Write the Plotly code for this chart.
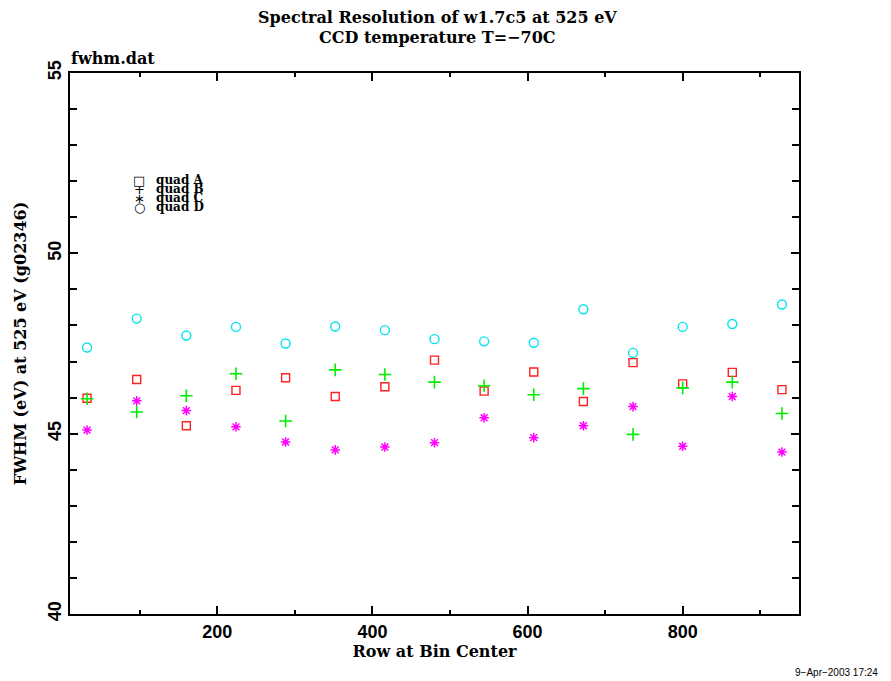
import plotly.graph_objects as go

# ---- data ----
row_centers = [32, 96, 160, 224, 288, 352, 416, 480, 544, 608, 672, 736, 800, 864, 928]
quad_a = [45.98, 46.50, 45.22, 46.20, 46.55, 46.03, 46.30, 47.04, 46.18, 46.71, 45.89, 46.97, 46.38, 46.70, 46.22]
quad_b = [45.97, 45.60, 46.05, 46.66, 45.35, 46.77, 46.64, 46.43, 46.33, 46.08, 46.25, 44.98, 46.27, 46.43, 45.56]
quad_c = [45.10, 45.91, 45.64, 45.19, 44.77, 44.55, 44.63, 44.75, 45.44, 44.89, 45.22, 45.75, 44.65, 46.03, 44.49]
quad_d = [47.39, 48.19, 47.72, 47.96, 47.50, 47.97, 47.87, 47.62, 47.56, 47.52, 48.45, 47.24, 47.96, 48.04, 48.58]
series_names = ["quad A", "quad B", "quad C", "quad D"]
x_ticks = [200, 400, 600, 800]
y_ticks = [40, 45, 50, 55]

OFF = 8  # page body margin
W, H = 891 - OFF, 681 - OFF
L, R, T, B = 70 - OFF, 799 - OFF, 72.5 - OFF, 614.5 - OFF
pw, ph = R - L, B - T


def px(x):
    return (x - OFF - L) / pw


def py(y):
    return (B - (y - OFF)) / ph


serif = "DejaVu Serif"
sans = "Liberation Sans"

fig = go.Figure()
styles = [
    ("square-open", "#ff2020", 8, 1.4),
    ("cross-thin-open", "#00ee00", 9, 1.6),
    ("asterisk-open", "#ff00ff", 8, 1.5),
    ("circle-open", "#00e5ee", 9, 1.4),
]
for name, ys, (sym, col, sz, lw) in zip(series_names, [quad_a, quad_b, quad_c, quad_d], styles):
    fig.add_trace(go.Scatter(
        x=row_centers, y=ys, mode="markers", name=name,
        marker=dict(symbol=sym, color=col, size=sz, line=dict(width=lw, color=col)),
        showlegend=False,
    ))

axis_common = dict(
    showline=True, linecolor="black", linewidth=2, mirror="allticks",
    ticks="inside", tickcolor="black", tickwidth=2,
    showgrid=False, zeroline=False,
    tickfont=dict(family=sans, size=18, color="black", weight="bold"),
)
fig.update_xaxes(
    range=[10, 950], tickvals=x_ticks, ticklen=8,
    minor=dict(dtick=100, tick0=0, ticks="inside", ticklen=4, tickwidth=2, tickcolor="black", showgrid=False),
    title=dict(text="Row at Bin Center", font=dict(family=serif, size=16, color="black", weight="bold"), standoff=5),
    **axis_common,
)
fig.update_yaxes(
    range=[40, 55], tickvals=y_ticks, ticklen=8, tickangle=-90,
    minor=dict(dtick=1, tick0=0, ticks="inside", ticklen=7, tickwidth=2, tickcolor="black", showgrid=False),
    title=dict(text="FWHM (eV) at 525 eV (g02346)", font=dict(family=serif, size=16, color="black", weight="bold"), standoff=14),
    **axis_common,
)

ann = []
title_font = dict(family=serif, size=16, color="black", weight="bold")
ann.append(dict(text="Spectral Resolution of w1.7c5 at 525 eV", x=px(437), y=py(17), xref="paper", yref="paper",
                showarrow=False, xanchor="center", yanchor="middle", font=title_font))
ann.append(dict(text="CCD temperature T=\u221270C", x=px(437), y=py(37), xref="paper", yref="paper",
                showarrow=False, xanchor="center", yanchor="middle", font=title_font))
ann.append(dict(text="fwhm.dat", x=px(69), y=py(58), xref="paper", yref="paper",
                showarrow=False, xanchor="left", yanchor="middle", font=title_font))
ann.append(dict(text="9\u2212Apr\u22122003 17:24", x=px(880), y=py(673), xref="paper", yref="paper",
                showarrow=False, xanchor="right", yanchor="middle",
                font=dict(family=sans, size=10, color="black")))

legend_syms = ["\u25a1", "+", "\u2217", "\u25cb"]
legend_rows = [180, 189, 198, 207]
for sym, name, yr in zip(legend_syms, series_names, legend_rows):
    ann.append(dict(text=sym, x=px(139), y=py(yr), xref="paper", yref="paper", showarrow=False,
                    xanchor="center", yanchor="middle", font=dict(family="DejaVu Sans", size=13, color="black")))
    ann.append(dict(text=name, x=px(154), y=py(yr), xref="paper", yref="paper", showarrow=False,
                    xanchor="left", yanchor="middle",
                    font=dict(family=serif, size=12, color="black", weight="bold")))

fig.update_layout(
    width=W, height=H, autosize=False,
    margin=dict(l=L, r=W - R, t=T, b=H - B, pad=0),
    paper_bgcolor="white", plot_bgcolor="white",
    annotations=ann, showlegend=False,
)

fig.write_html("out.html")
